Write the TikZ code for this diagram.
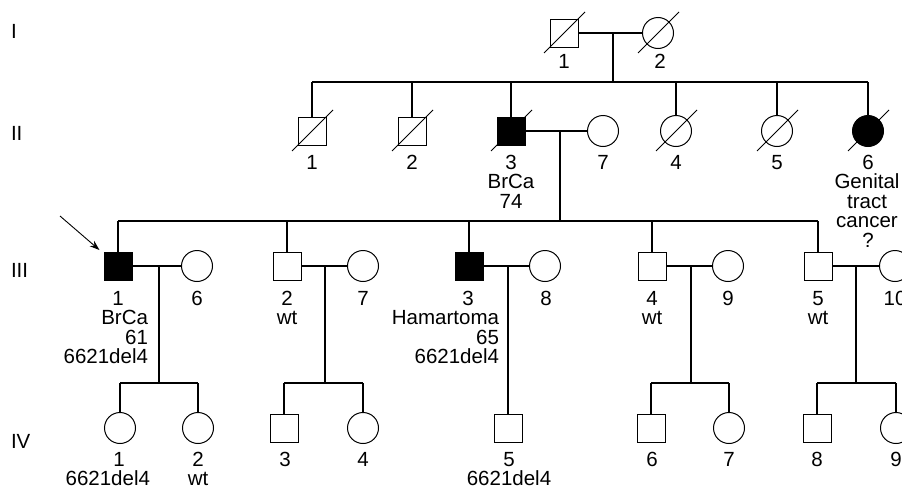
\documentclass[tikz,border=0pt]{standalone}
\usepackage{fontspec}
\setmainfont{Liberation Sans}
\usetikzlibrary{arrows.meta}
\tikzset{
  every node/.style={inner sep=0pt, outer sep=0pt},
  male/.style={draw, rectangle, minimum size=28pt, line width=1pt, fill=white},
  female/.style={draw, circle, minimum size=31pt, line width=1pt, fill=white},
  aff/.style={fill=black},
  ln/.style={line width=1.2pt},
  dead/.style={line width=1pt},
  txt/.style={font=\fontsize{20.5}{19.5}\selectfont},
  lbl/.style={txt, anchor=base},
  rlbl/.style={txt, anchor=base east},
  gen/.style={txt, anchor=base west},
  proband/.style={line width=0.9pt, -{Stealth[length=10pt,width=7pt]}, shorten >=6pt}
}
\begin{document}
\begin{tikzpicture}[x=1pt,y=-1pt]
\useasboundingbox (0,0) rectangle (902,490);
\clip (0,0) rectangle (902,490);

% generation labels
\node[gen] (gI) at (11,38) {I};
\node[gen] (gII) at (11,140) {II};
\node[gen] (gIII) at (11,277) {III};
\node[gen] (gIV) at (11,448) {IV};

% generation I
\node[male] (I1) at (564,33) {};
\node[female] (I2) at (658,33) {};

% generation II
\node[male] (II1) at (312,131) {};
\node[male] (II2) at (412,131) {};
\node[male,aff] (II3) at (511,131) {};
\node[female] (II7) at (603,131) {};
\node[female] (II4) at (676,131) {};
\node[female] (II5) at (777,131) {};
\node[female,aff] (II6) at (868,131) {};

% generation III
\node[male,aff] (III1) at (118,266) {};
\node[female] (III6) at (197,266) {};
\node[male] (III2) at (287,266) {};
\node[female] (III7) at (363,266) {};
\node[male,aff] (III3) at (469,266) {};
\node[female] (III8) at (545,266) {};
\node[male] (III4) at (652,266) {};
\node[female] (III9) at (728,266) {};
\node[male] (III5) at (818,266) {};
\node[female] (III10) at (895,266) {};

% generation IV
\node[female] (IV1) at (120,428) {};
\node[female] (IV2) at (198,428) {};
\node[male] (IV3) at (284,428) {};
\node[female] (IV4) at (363,428) {};
\node[male] (IV5) at (508,428) {};
\node[male] (IV6) at (651,428) {};
\node[female] (IV7) at (729,428) {};
\node[male] (IV8) at (817,428) {};
\node[female] (IV9) at (896,428) {};

% junction coordinates
\coordinate (mI) at (613,33);
\coordinate (sI) at (613,82);
\coordinate (mII) at (560,131);
\coordinate (sII) at (560,221);
\coordinate (mA) at (159,266);
\coordinate (sA) at (159,383);
\coordinate (mB) at (325,266);
\coordinate (sB) at (325,383);
\coordinate (mC) at (508,266);
\coordinate (mD) at (691,266);
\coordinate (sD) at (691,383);
\coordinate (mE) at (856,266);
\coordinate (sE) at (856,383);
\coordinate (arrS) at (60,216);

% generation I -> II
\draw[ln] (I1) -- (I2);
\draw[ln] (mI) -- (sI);
\draw[ln] (II1 |- sI) -- (II6 |- sI);
\foreach \c in {II1,II2,II3,II4,II5,II6} \draw[ln] (\c) -- (\c |- sI);

% generation II -> III
\draw[ln] (II3) -- (II7);
\draw[ln] (mII) -- (sII);
\draw[ln] (III1 |- sII) -- (III5 |- sII);
\foreach \c in {III1,III2,III3,III4,III5} \draw[ln] (\c) -- (\c |- sII);

% generation III -> IV
\draw[ln] (III1) -- (III6);
\draw[ln] (mA) -- (sA);
\draw[ln] (IV1 |- sA) -- (IV2 |- sA);
\draw[ln] (IV1) -- (IV1 |- sA);
\draw[ln] (IV2) -- (IV2 |- sA);

\draw[ln] (III2) -- (III7);
\draw[ln] (mB) -- (sB);
\draw[ln] (IV3 |- sB) -- (IV4 |- sB);
\draw[ln] (IV3) -- (IV3 |- sB);
\draw[ln] (IV4) -- (IV4 |- sB);

\draw[ln] (III3) -- (III8);
\draw[ln] (mC) -- (IV5);

\draw[ln] (III4) -- (III9);
\draw[ln] (mD) -- (sD);
\draw[ln] (IV6 |- sD) -- (IV7 |- sD);
\draw[ln] (IV6) -- (IV6 |- sD);
\draw[ln] (IV7) -- (IV7 |- sD);

\draw[ln] (III5) -- (III10);
\draw[ln] (mE) -- (sE);
\draw[ln] (IV8 |- sE) -- (IV9 |- sE);
\draw[ln] (IV8) -- (IV8 |- sE);
\draw[ln] (IV9) -- (IV9 |- sE);

% deceased slashes
\foreach \c in {I1,I2,II1,II2,II3,II4,II5,II6}
  \draw[dead] ([shift={(-20,20)}]\c.center) -- ([shift={(21,-21)}]\c.center);

% proband arrow
\draw[proband] (arrS) -- (III1);

% labels generation I
\node[lbl] (tI1) at (564,68) {1};
\node[lbl] (tI2) at (660,68) {2};

% labels generation II
\node[lbl] (tII1) at (312,169) {1};
\node[lbl] (tII2) at (412,169) {2};
\node[lbl] (tII3) at (511,169) {3};
\node[lbl] (tII3b) at (511,188.5) {BrCa};
\node[lbl] (tII3c) at (511,208) {74};
\node[lbl] (tII7) at (603,169) {7};
\node[lbl] (tII4) at (676,169) {4};
\node[lbl] (tII5) at (777,169) {5};
\node[lbl] (tII6) at (868,169) {6};
\node[lbl] (tII6b) at (867,188.5) {Genital};
\node[lbl] (tII6c) at (867,208) {tract};
\node[lbl] (tII6d) at (867,227.5) {cancer};
\node[lbl] (tII6e) at (868,247) {?};

% labels generation III
\node[lbl] (tIII1) at (118,305) {1};
\node[rlbl] (tIII1b) at (148,324.5) {BrCa};
\node[rlbl] (tIII1c) at (148,344) {61};
\node[rlbl] (tIII1d) at (148,363.5) {6621del4};
\node[lbl] (tIII6) at (197,305) {6};
\node[lbl] (tIII2) at (287,305) {2};
\node[lbl] (tIII2b) at (287,324.5) {wt};
\node[lbl] (tIII7) at (363,305) {7};
\node[lbl] (tIII3) at (468,305) {3};
\node[rlbl] (tIII3b) at (499,324.5) {Hamartoma};
\node[rlbl] (tIII3c) at (499,344) {65};
\node[rlbl] (tIII3d) at (499,363.5) {6621del4};
\node[lbl] (tIII8) at (546,305) {8};
\node[lbl] (tIII4) at (652,305) {4};
\node[lbl] (tIII4b) at (652,324.5) {wt};
\node[lbl] (tIII9) at (728,305) {9};
\node[lbl] (tIII5) at (818,305) {5};
\node[lbl] (tIII5b) at (818,324.5) {wt};
\node[lbl] (tIII10) at (895,305) {10};

% labels generation IV
\node[lbl] (tIV1) at (119,466) {1};
\node[rlbl] (tIV1b) at (150,485) {6621del4};
\node[lbl] (tIV2) at (198,466) {2};
\node[lbl] (tIV2b) at (198,485) {wt};
\node[lbl] (tIV3) at (285,466) {3};
\node[lbl] (tIV4) at (363,466) {4};
\node[lbl] (tIV5) at (509,466) {5};
\node[lbl] (tIV5b) at (509,485) {6621del4};
\node[lbl] (tIV6) at (652,466) {6};
\node[lbl] (tIV7) at (729,466) {7};
\node[lbl] (tIV8) at (817,466) {8};
\node[lbl] (tIV9) at (896,466) {9};
\end{tikzpicture}
\end{document}
